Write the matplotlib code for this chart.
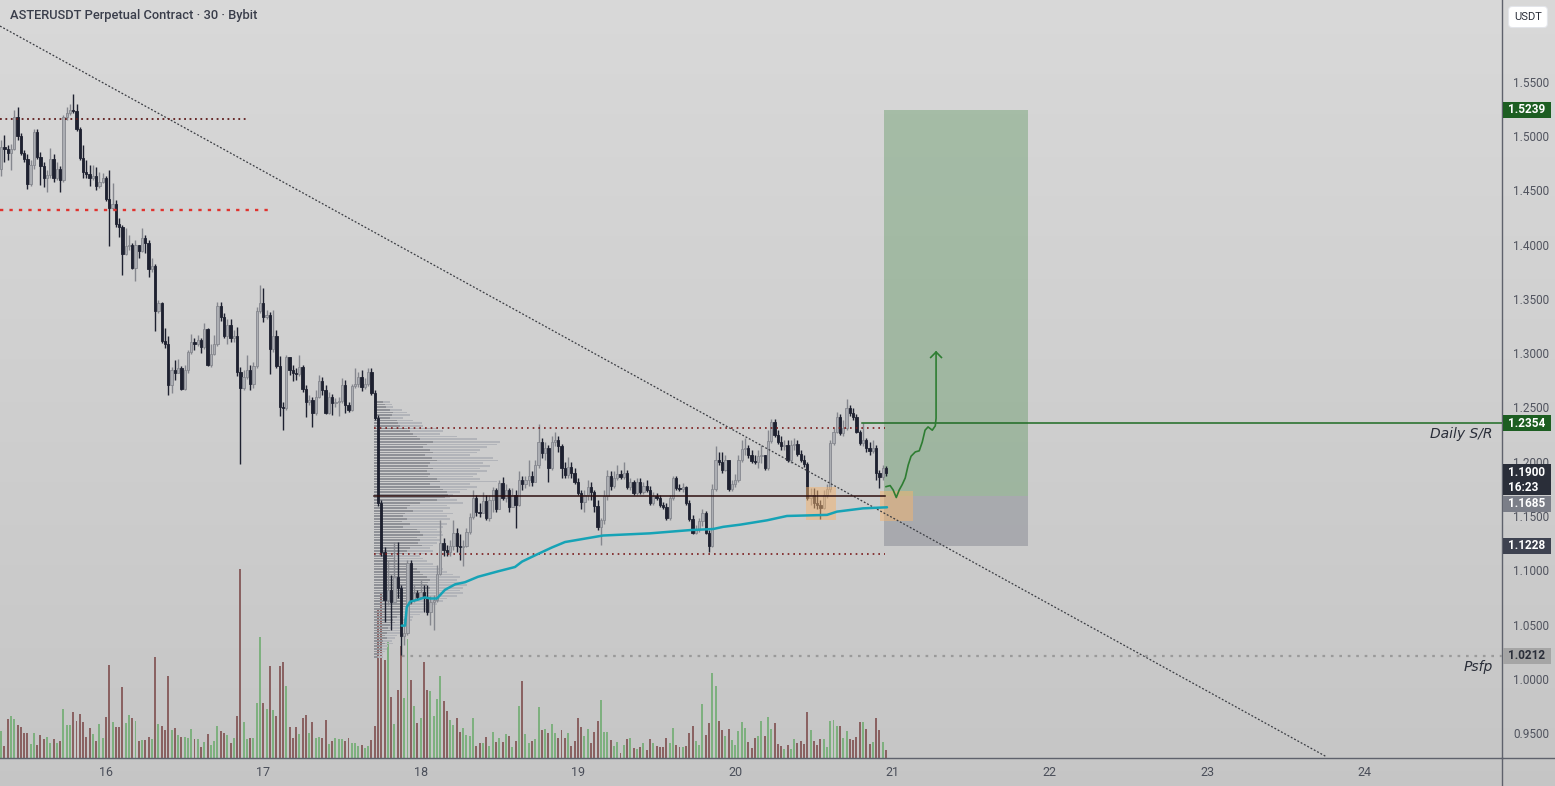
import numpy as np
import matplotlib.pyplot as plt
from matplotlib.patches import Rectangle
from matplotlib.lines import Line2D
from matplotlib.transforms import blended_transform_factory

plt.rcParams['font.family'] = ['Roboto', 'DejaVu Sans']

# 30 minute candles, the first visible one opens on the 15th at 08:00
first_candle = 15 + 8 / 24
bar_days = 1 / 48
first_open = 1.470

closes = [
    1.490, 1.488, 1.484, 1.488, 1.517, 1.500, 1.484, 1.479, 1.456, 1.473,
    1.504, 1.481, 1.472, 1.461, 1.464, 1.479, 1.461, 1.470, 1.459, 1.517,
    1.521, 1.524, 1.523, 1.506, 1.480, 1.467, 1.465, 1.461, 1.463, 1.454,
    1.458, 1.461, 1.442, 1.434, 1.437, 1.419, 1.416, 1.391, 1.399, 1.400,
    1.378, 1.400, 1.394, 1.406, 1.401, 1.377, 1.380, 1.339, 1.346, 1.311,
    1.308, 1.271, 1.284, 1.282, 1.286, 1.267, 1.284, 1.301, 1.310, 1.308,
    1.312, 1.306, 1.322, 1.289, 1.299, 1.308, 1.343, 1.333, 1.316, 1.326,
    1.314, 1.316, 1.283, 1.268, 1.278, 1.284, 1.272, 1.288, 1.339, 1.346,
    1.333, 1.335, 1.304, 1.316, 1.288, 1.250, 1.249, 1.296, 1.284, 1.282,
    1.281, 1.287, 1.267, 1.255, 1.257, 1.245, 1.260, 1.274, 1.266, 1.245,
    1.260, 1.254, 1.255, 1.256, 1.271, 1.252, 1.248, 1.270, 1.272, 1.278,
    1.269, 1.272, 1.283, 1.263, 1.240, 1.162, 1.117, 1.073, 1.082, 1.071,
    1.094, 1.084, 1.039, 1.042, 1.107, 1.073, 1.079, 1.075, 1.080, 1.074,
    1.062, 1.071, 1.073, 1.097, 1.125, 1.119, 1.117, 1.122, 1.134, 1.122,
    1.121, 1.122, 1.135, 1.149, 1.167, 1.154, 1.153, 1.164, 1.148, 1.165,
    1.174, 1.156, 1.180, 1.167, 1.174, 1.158, 1.169, 1.160, 1.183, 1.179,
    1.183, 1.187, 1.181, 1.197, 1.218, 1.208, 1.213, 1.194, 1.218, 1.220,
    1.214, 1.194, 1.188, 1.195, 1.190, 1.181, 1.171, 1.163, 1.169, 1.177,
    1.172, 1.159, 1.140, 1.146, 1.168, 1.187, 1.178, 1.185, 1.189, 1.186,
    1.190, 1.177, 1.181, 1.171, 1.181, 1.172, 1.178, 1.174, 1.162, 1.168,
    1.167, 1.160, 1.158, 1.148, 1.167, 1.185, 1.176, 1.175, 1.177, 1.162,
    1.147, 1.134, 1.138, 1.145, 1.153, 1.134, 1.122, 1.175, 1.202, 1.200,
    1.192, 1.202, 1.175, 1.179, 1.183, 1.202, 1.212, 1.213, 1.206, 1.201,
    1.200, 1.205, 1.206, 1.194, 1.219, 1.237, 1.225, 1.218, 1.214, 1.215,
    1.202, 1.215, 1.216, 1.207, 1.202, 1.198, 1.167, 1.169, 1.162, 1.160,
    1.157, 1.169, 1.175, 1.217, 1.227, 1.241, 1.226, 1.231, 1.249, 1.245,
    1.241, 1.227, 1.217, 1.220, 1.213, 1.210, 1.213, 1.190, 1.186, 1.194,
    1.190,
]
highs = [
    1.496, 1.501, 1.492, 1.493, 1.524, 1.527, 1.503, 1.487, 1.483, 1.478,
    1.506, 1.506, 1.485, 1.476, 1.469, 1.489, 1.483, 1.476, 1.472, 1.519,
    1.527, 1.529, 1.539, 1.529, 1.508, 1.492, 1.478, 1.473, 1.473, 1.471,
    1.467, 1.466, 1.463, 1.469, 1.457, 1.441, 1.424, 1.418, 1.415, 1.409,
    1.401, 1.404, 1.400, 1.415, 1.409, 1.404, 1.388, 1.382, 1.349, 1.347,
    1.323, 1.316, 1.287, 1.294, 1.295, 1.288, 1.289, 1.303, 1.318, 1.314,
    1.317, 1.314, 1.328, 1.323, 1.308, 1.317, 1.347, 1.347, 1.337, 1.331,
    1.331, 1.321, 1.324, 1.287, 1.284, 1.298, 1.289, 1.292, 1.342, 1.363,
    1.360, 1.340, 1.338, 1.340, 1.321, 1.297, 1.255, 1.298, 1.296, 1.289,
    1.286, 1.298, 1.289, 1.271, 1.261, 1.260, 1.266, 1.280, 1.278, 1.271,
    1.264, 1.262, 1.259, 1.260, 1.277, 1.275, 1.255, 1.272, 1.286, 1.283,
    1.284, 1.277, 1.286, 1.286, 1.266, 1.243, 1.165, 1.121, 1.109, 1.096,
    1.126, 1.126, 1.086, 1.056, 1.109, 1.109, 1.086, 1.082, 1.091, 1.086,
    1.086, 1.076, 1.077, 1.105, 1.146, 1.130, 1.123, 1.128, 1.146, 1.139,
    1.133, 1.128, 1.139, 1.153, 1.174, 1.169, 1.162, 1.172, 1.169, 1.169,
    1.177, 1.176, 1.183, 1.186, 1.179, 1.176, 1.176, 1.174, 1.191, 1.187,
    1.187, 1.202, 1.191, 1.202, 1.235, 1.222, 1.218, 1.215, 1.224, 1.227,
    1.224, 1.216, 1.200, 1.204, 1.200, 1.194, 1.185, 1.174, 1.174, 1.183,
    1.181, 1.174, 1.165, 1.148, 1.174, 1.192, 1.191, 1.191, 1.197, 1.192,
    1.200, 1.192, 1.185, 1.183, 1.185, 1.185, 1.181, 1.183, 1.178, 1.172,
    1.171, 1.169, 1.163, 1.162, 1.169, 1.187, 1.187, 1.179, 1.180, 1.178,
    1.165, 1.151, 1.142, 1.148, 1.156, 1.155, 1.137, 1.179, 1.214, 1.209,
    1.209, 1.206, 1.202, 1.183, 1.189, 1.206, 1.220, 1.222, 1.215, 1.211,
    1.206, 1.211, 1.215, 1.206, 1.229, 1.239, 1.239, 1.229, 1.224, 1.220,
    1.220, 1.220, 1.222, 1.220, 1.211, 1.206, 1.200, 1.176, 1.176, 1.174,
    1.165, 1.174, 1.179, 1.220, 1.231, 1.246, 1.244, 1.238, 1.258, 1.252,
    1.249, 1.244, 1.229, 1.236, 1.222, 1.218, 1.220, 1.215, 1.192, 1.197,
    1.196,
]
lows = [
    1.463, 1.476, 1.478, 1.469, 1.487, 1.496, 1.482, 1.476, 1.451, 1.454,
    1.470, 1.479, 1.455, 1.453, 1.448, 1.461, 1.458, 1.459, 1.448, 1.458,
    1.515, 1.519, 1.521, 1.505, 1.478, 1.461, 1.461, 1.454, 1.459, 1.450,
    1.452, 1.457, 1.440, 1.399, 1.432, 1.416, 1.407, 1.372, 1.390, 1.395,
    1.377, 1.366, 1.388, 1.393, 1.392, 1.370, 1.375, 1.320, 1.337, 1.309,
    1.305, 1.261, 1.263, 1.275, 1.282, 1.266, 1.266, 1.282, 1.299, 1.303,
    1.307, 1.300, 1.304, 1.288, 1.287, 1.298, 1.307, 1.330, 1.314, 1.308,
    1.310, 1.310, 1.279, 1.198, 1.266, 1.276, 1.266, 1.268, 1.286, 1.337,
    1.329, 1.331, 1.281, 1.301, 1.286, 1.242, 1.229, 1.248, 1.280, 1.274,
    1.275, 1.279, 1.264, 1.241, 1.252, 1.232, 1.243, 1.259, 1.261, 1.244,
    1.244, 1.243, 1.250, 1.242, 1.254, 1.245, 1.246, 1.247, 1.268, 1.269,
    1.265, 1.267, 1.270, 1.261, 1.238, 1.159, 1.113, 1.052, 1.068, 1.045,
    1.075, 1.074, 1.022, 1.031, 1.040, 1.070, 1.071, 1.073, 1.074, 1.062,
    1.059, 1.050, 1.045, 1.071, 1.096, 1.113, 1.113, 1.113, 1.119, 1.117,
    1.109, 1.104, 1.121, 1.133, 1.147, 1.150, 1.149, 1.154, 1.146, 1.145,
    1.154, 1.154, 1.156, 1.165, 1.163, 1.154, 1.160, 1.139, 1.159, 1.174,
    1.176, 1.178, 1.178, 1.181, 1.194, 1.203, 1.202, 1.181, 1.192, 1.214,
    1.209, 1.185, 1.185, 1.185, 1.185, 1.179, 1.169, 1.156, 1.154, 1.165,
    1.165, 1.154, 1.137, 1.123, 1.143, 1.165, 1.174, 1.176, 1.183, 1.184,
    1.184, 1.175, 1.174, 1.169, 1.169, 1.170, 1.170, 1.172, 1.160, 1.160,
    1.165, 1.158, 1.156, 1.146, 1.146, 1.165, 1.174, 1.173, 1.172, 1.160,
    1.145, 1.133, 1.133, 1.135, 1.141, 1.133, 1.117, 1.121, 1.173, 1.197,
    1.190, 1.191, 1.173, 1.173, 1.177, 1.181, 1.200, 1.206, 1.203, 1.199,
    1.198, 1.194, 1.199, 1.192, 1.192, 1.217, 1.223, 1.216, 1.211, 1.211,
    1.200, 1.199, 1.211, 1.205, 1.200, 1.195, 1.165, 1.160, 1.157, 1.156,
    1.147, 1.156, 1.167, 1.172, 1.215, 1.226, 1.225, 1.224, 1.229, 1.242,
    1.238, 1.226, 1.215, 1.214, 1.209, 1.206, 1.208, 1.183, 1.176, 1.183,
    1.187,
]
volume = [
    27, 12, 39, 42, 39, 33, 31, 25, 25, 14, 25, 13, 23, 19, 21, 15, 19, 15, 17, 49,
    33, 33, 46, 37, 44, 36, 21, 30, 24, 17, 34, 20, 41, 93, 36, 31, 31, 71, 35, 43,
    40, 37, 17, 18, 18, 21, 19, 101, 34, 32, 28, 82, 28, 30, 23, 21, 21, 20, 29, 19,
    19, 11, 16, 24, 13, 17, 32, 27, 25, 23, 15, 20, 42, 189, 36, 19, 20, 20, 55, 121,
    55, 49, 92, 48, 42, 92, 96, 72, 31, 20, 31, 24, 40, 43, 25, 36, 20, 21, 20, 38,
    14, 17, 20, 19, 19, 17, 20, 15, 15, 12, 13, 10, 12, 18, 32, 150, 166, 98, 117, 61,
    34, 68, 112, 60, 119, 78, 52, 35, 40, 96, 68, 67, 42, 59, 82, 57, 47,
    38, 33, 40, 26, 30, 23, 22, 40, 12, 15, 15, 21, 12, 26, 16, 20, 16, 24, 22, 11,
    17, 52, 77, 24, 15, 17, 19, 51, 28, 29, 25, 34, 25, 20, 28, 20, 25, 12, 17, 40,
    31, 22, 29, 15, 26, 37, 58, 26, 26, 18, 12, 16, 5, 13, 19, 20, 10, 9, 11, 15,
    8, 19, 15, 12, 11, 11, 20, 15, 30, 13, 11, 11, 12, 25, 32, 17, 13, 54, 23, 35,
    85, 72, 37, 28, 22, 29, 18, 13, 27, 36, 30, 16, 10, 20, 22, 37, 22, 41, 29, 35,
    14, 12, 9, 13, 9, 19, 15, 17, 14, 46, 28, 17, 13, 19, 19, 11, 37, 38, 32, 32,
    20, 27, 19, 18, 21, 36, 36, 29, 14, 16, 40, 28, 16, 8,
]

# fixed range volume profile, rows from the top of the range down
vp_start = 17.704
vp_high, vp_low = 1.2562, 1.0190
vp_total = [
    16, 18, 19, 28, 33, 36, 29, 39, 48, 49, 63, 69, 66, 83, 103, 126, 123, 113, 106, 103,
    96, 119, 124, 109, 116, 106, 113, 103, 99, 106, 123, 96, 103, 93, 86, 79, 76, 83, 89, 73,
    76, 69, 79, 73, 76, 66, 73, 69, 63, 68, 69, 63, 66, 63, 59, 56, 59, 53, 46, 49,
    53, 59, 63, 69, 73, 79, 86, 83, 89, 93, 89, 86, 89, 83, 73, 69, 63, 59, 53, 49,
    46, 39, 38, 36, 33, 29, 28, 26, 23, 21, 18, 19, 14, 13, 11, 9, 9,
]
vp_up = [
    9, 11, 12, 16, 19, 18, 16, 23, 24, 26, 33, 36, 39, 43, 46, 59, 53, 49, 56, 59,
    51, 58, 63, 56, 54, 59, 53, 56, 54, 63, 66, 56, 66, 69, 73, 74, 71, 63, 46, 36,
    33, 39, 31, 29, 33, 28, 36, 29, 43, 46, 49, 43, 46, 44, 48, 36, 33, 29, 19, 21,
    23, 33, 39, 43, 46, 49, 53, 56, 54, 53, 56, 49, 46, 43, 39, 36, 38, 33, 29, 26,
    28, 23, 19, 21, 16, 14, 16, 13, 11, 13, 9, 11, 8, 8, 6, 5, 4,
]

# anchored vwap
vwap_t = [17.880, 17.901, 17.912, 17.933, 17.983, 18.028, 18.060, 18.104, 18.155, 18.219,
          18.282, 18.365, 18.492, 18.600, 18.645, 18.746, 18.835, 18.918, 19.160, 19.458,
          19.713, 19.860, 19.924, 20.032, 20.202, 20.329, 20.584, 20.647, 20.812, 20.965]
vwap_p = [1.049, 1.049, 1.066, 1.071, 1.073, 1.075, 1.074, 1.074, 1.082, 1.087,
          1.089, 1.094, 1.099, 1.103, 1.108, 1.115, 1.121, 1.126, 1.132, 1.134,
          1.137, 1.138, 1.140, 1.142, 1.146, 1.150, 1.151, 1.154, 1.157, 1.158]

# projected path drawn by hand
path_t = [20.959, 20.985, 21.004, 21.024, 21.043, 21.062, 21.081, 21.100, 21.118,
          21.145, 21.170, 21.189, 21.207, 21.226, 21.253, 21.272, 21.277, 21.277]
path_p = [1.177, 1.178, 1.174, 1.167, 1.174, 1.179, 1.185, 1.197, 1.205,
          1.209, 1.210, 1.218, 1.229, 1.232, 1.229, 1.233, 1.240, 1.301]

trend_t = [15.326, 23.762]
trend_p = [1.6012, 0.9280]

top_level, top_end = 1.5156, 16.89
red_level, red_end = 1.4318, 17.055
sr_level, sr_start = 1.2354, 20.806
poc_level = 1.1685
vah_level, val_level = 1.231, 1.115
range_end = 20.952
psfp_level, psfp_start = 1.0212, 17.88
target_level, stop_level = 1.5239, 1.1228
entry_start, entry_end = 20.946, 21.861
last_price = 1.1900
countdown = '16:23'
zones = [(20.450, 20.641, 1.146, 1.177), (20.921, 21.130, 1.145, 1.173)]

price_ticks = [0.95, 1.00, 1.05, 1.10, 1.15, 1.20, 1.25, 1.30, 1.35, 1.40, 1.45, 1.50, 1.55]
day_ticks = [16, 17, 18, 19, 20, 21, 22, 23, 24]

W, H = 1555, 786
fig = plt.figure(figsize=(W / 100, H / 100), dpi=100)

bg = fig.add_axes([0, 0, 1, 1], zorder=-5)
shade = np.linspace(0.85, 0.775, 256)[:, None]
bg.imshow(np.dstack([shade, shade, shade]), aspect='auto', extent=[0, 1, 0, 1])
bg.axis('off')

ax = fig.add_axes([0, 28 / H, 1502 / W, 758 / H])
vax = ax.twinx()
vax.set_zorder(ax.get_zorder() - 1)
ax.patch.set_visible(False)
vax.patch.set_visible(False)
xmin, xmax = 15.3261, 24.8748
ymin, ymax = 0.9271, 1.6252
ax.set_xlim(xmin, xmax)
ax.set_ylim(ymin, ymax)
px = (ymax - ymin) / 758  # price per pixel, used for tag boxes

c = np.array(closes)
o = np.r_[first_open, c[:-1]]
hi = np.maximum(np.array(highs), np.maximum(o, c))
lo = np.minimum(np.array(lows), np.minimum(o, c))
t = first_candle + bar_days * np.arange(len(c))
up = c >= o

up_body, up_edge, dn_body = '#acaeb3', '#85878e', '#1e2130'
vol_green, vol_red = '#7eb07f', '#8a6262'

# volume
vax.bar(t, volume, width=bar_days * 0.6, color=np.where(up, vol_green, vol_red), linewidth=0)
vax.set_ylim(0, max(volume) * 4.01)
vax.axis('off')

# volume profile
edges = np.linspace(vp_high, vp_low, len(vp_total) + 1)
rows = (edges[:-1] + edges[1:]) / 2
row_h = abs(edges[1] - edges[0]) * 0.62
vp_scale = 0.80 / max(vp_total)
vt = np.array(vp_total) * vp_scale
vu = np.array(vp_up) * vp_scale
ax.barh(rows, vu, left=vp_start, height=row_h, color='#8f9197', linewidth=0, zorder=1)
ax.barh(rows, vt - vu, left=vp_start + vu, height=row_h, color='#b2b4b9', linewidth=0, zorder=1)

# candles
ax.vlines(t, lo, hi, colors=np.where(up, up_edge, dn_body), linewidth=1, zorder=3)
ax.bar(t, np.maximum(np.abs(c - o), 0.0009), bottom=np.minimum(o, c), width=bar_days * 0.7,
       color=np.where(up, up_body, dn_body), edgecolor=np.where(up, up_edge, dn_body),
       linewidth=0.6, zorder=4)

# long position box
ax.add_patch(Rectangle((entry_start, poc_level), entry_end - entry_start, target_level - poc_level,
                       facecolor='#2e7d32', alpha=0.29, linewidth=0, zorder=2))
ax.add_patch(Rectangle((entry_start, stop_level), entry_end - entry_start, poc_level - stop_level,
                       facecolor='#787b86', alpha=0.42, linewidth=0, zorder=2))
for x0, x1, y0, y1 in zones:
    ax.add_patch(Rectangle((x0, y0), x1 - x0, y1 - y0, facecolor='#f5b46e', alpha=0.5,
                           linewidth=0, zorder=5))

# levels and drawings
ax.plot(trend_t, trend_p, color='#3a3c42', linewidth=0.9, linestyle=(0, (1.5, 1.5)), zorder=6)
ax.plot([xmin, top_end], [top_level] * 2, color='#5e1b1b', linewidth=1.3, linestyle=(0, (1, 2)), zorder=6)
ax.plot([xmin, red_end], [red_level] * 2, color='#e0332f', linewidth=1.7, linestyle=(0, (1.4, 2.6)), zorder=6)
for lvl in (vah_level, val_level):
    ax.plot([vp_start, range_end], [lvl] * 2, color='#7a1c1c', linewidth=1.2,
            linestyle=(0, (1, 2.4)), zorder=6)
ax.plot([vp_start, range_end], [poc_level] * 2, color='#2e1010', linewidth=1.1, zorder=6)
ax.plot([psfp_start, xmax], [psfp_level] * 2, color='#9a9a9a', linewidth=1.6,
        linestyle=(0, (1.2, 2.6)), zorder=6)
ax.plot([sr_start, xmax], [sr_level] * 2, color='#1e6b24', linewidth=1.1, zorder=6)
ax.plot(vwap_t, vwap_p, color='#16a3b6', linewidth=1.8, solid_capstyle='round', zorder=7)
ax.plot(path_t, path_p, color='#2e7d32', linewidth=1.2, zorder=7)
ax.plot([path_t[-1] - 0.034, path_t[-1], path_t[-1] + 0.034],
        [path_p[-1] - 0.005, path_p[-1], path_p[-1] - 0.005], color='#2e7d32', linewidth=1.2, zorder=7)

tr = blended_transform_factory(ax.transAxes, ax.transData)
ax.annotate('Daily S/R', xy=(1.0, sr_level), xycoords=tr, xytext=(-9, -11),
            textcoords='offset pixels', ha='right', va='center', fontsize=10,
            style='italic', color='#2a2e39', family=['DejaVu Sans'])
ax.annotate('Psfp', xy=(1.0, psfp_level), xycoords=tr, xytext=(-9, -11),
            textcoords='offset pixels', ha='right', va='center', fontsize=10,
            style='italic', color='#2a2e39', family=['DejaVu Sans'])

# axes styling
for side in ('top', 'left'):
    ax.spines[side].set_visible(False)
for side in ('right', 'bottom'):
    ax.spines[side].set_color('#5f626c')
    ax.spines[side].set_linewidth(1)
ax.yaxis.tick_right()
ax.set_yticks(price_ticks)
ax.set_yticklabels([f'{v:.4f}' for v in price_ticks])
ax.tick_params(axis='y', length=0, pad=8, labelsize=8.5, labelcolor='#50535e')
ax.set_xticks(day_ticks)
ax.set_xticklabels([str(d) for d in day_ticks])
ax.tick_params(axis='x', length=0, pad=6, labelsize=9, labelcolor='#4a4e59')
fig.add_artist(Line2D([1502 / W, 1], [28 / H, 28 / H], color='#5f626c', linewidth=1))
fig.add_artist(Line2D([1502 / W, 1502 / W], [0, 28 / H], color='#5f626c', linewidth=1))

# price tags in the scale column
tag_x, tag_w, text_x = 1503 / 1502, 48 / 1502, 1508 / 1502


def price_tag(center, lines, face, color='white', height=16):
    ax.add_patch(Rectangle((tag_x, center - height * px / 2), tag_w, height * px,
                           transform=tr, facecolor=face, edgecolor='none',
                           clip_on=False, zorder=9))
    step = 15 * px
    first = center + (len(lines) - 1) * step / 2
    for k, txt in enumerate(lines):
        ax.text(text_x, first - k * step, txt, transform=tr, ha='left', va='center',
                fontsize=8.5, color=color, fontweight='bold', clip_on=False, zorder=10)


price_tag(target_level, [f'{target_level:.4f}'], '#1d5e22')
price_tag(sr_level, [f'{sr_level:.4f}'], '#1d5e22')
price_tag(last_price - 7 * px, [f'{last_price:.4f}', countdown], '#2a2e39', height=31)
price_tag(poc_level - 8 * px, [f'{poc_level:.4f}'], '#7b7e88')
price_tag(stop_level, [f'{stop_level:.4f}'], '#3e4250')
price_tag(psfp_level, [f'{psfp_level:.4f}'], '#a5a5a5', '#2a2e39')

fig.text(1528 / W, 1 - 17 / H, 'USDT', ha='center', va='center', fontsize=8, color='#2a2e39',
         bbox=dict(boxstyle='round,pad=0.5,rounding_size=0.35', facecolor='white',
                   edgecolor='#e3e5ea', linewidth=0.8))
fig.text(10 / W, 1 - 16 / H, 'ASTERUSDT Perpetual Contract · 30 · Bybit', ha='left', va='center',
         fontsize=9.3, color='#3a3e4b', fontweight='medium')

fig.savefig('out.png', dpi=100)
